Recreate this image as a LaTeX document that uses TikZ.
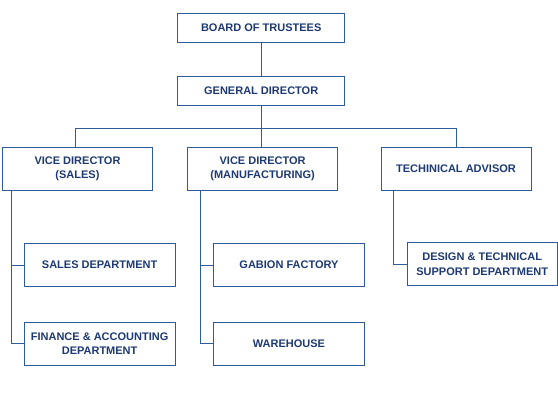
\documentclass[tikz,border=0pt]{standalone}
\usepackage{fontspec}
\setmainfont{Liberation Sans}
\definecolor{bord}{HTML}{2F5B9B}
\definecolor{txt}{HTML}{1E3A73}
\begin{document}
\begin{tikzpicture}[x=1pt,y=-1pt,
  box/.style={draw=bord, line width=1pt, fill=white, text=txt,
    font=\bfseries\fontsize{11}{14.6}\selectfont, align=center, inner sep=0pt,
    minimum width=150pt, minimum height=43pt},
  conn/.style={draw=bord, line width=1pt}]
\useasboundingbox[fill=white] (0,0) rectangle (558,418);
\node[box, minimum width=167.5pt, minimum height=29pt] (board) at (261.2,27.8) {BOARD OF TRUSTEES};
\node[box, minimum width=167.5pt, minimum height=29.4pt] (gd) at (261.2,91) {GENERAL DIRECTOR};
\node[box] (vds) at (77.5,168.8) {VICE DIRECTOR\\(SALES)};
\node[box, minimum width=150.3pt] (vdm) at (262.6,168.8) {VICE DIRECTOR\\(MANUFACTURING)};
\node[box] (ta) at (456,168.8) {TECHINICAL ADVISOR};
\node[box, minimum width=150.8pt, minimum height=43.4pt] (sales) at (99.6,265) {SALES DEPARTMENT};
\node[box, minimum width=150.8pt] (fin) at (99.6,343.8) {FINANCE \& ACCOUNTING\\DEPARTMENT};
\node[box, minimum width=150.4pt, minimum height=43.4pt] (gab) at (289,265) {GABION FACTORY};
\node[box, minimum width=150.4pt] (wh) at (289,343.8) {WAREHOUSE};
\node[box, minimum width=150.4pt, minimum height=43.4pt] (des) at (482.2,264) {DESIGN \& TECHNICAL\\SUPPORT DEPARTMENT};
\draw[conn] (board.south) -- (gd.north);
\draw[conn] (gd.south) -- (gd.south |- vdm.north);
\draw[conn] ([xshift=-2pt]vds.north) -- ++(0,-18) -| (ta.north);
\draw[conn] ([xshift=9.3pt]vds.south west) |- (fin.west);
\draw[conn] (sales.west) -- ++(-12.4,0);
\draw[conn] ([xshift=13.1pt]vdm.south west) |- (wh.west);
\draw[conn] (gab.west) -- ++(-13.2,0);
\draw[conn] ([xshift=12.8pt]ta.south west) |- (des.west);
\end{tikzpicture}
\end{document}
